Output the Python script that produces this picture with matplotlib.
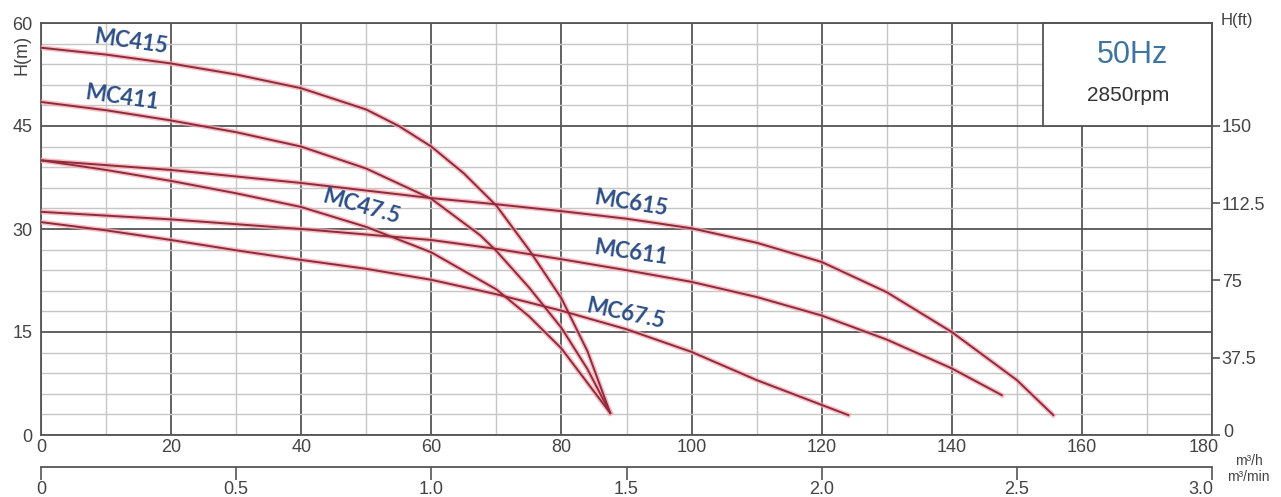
import matplotlib.pyplot as plt
from matplotlib.patches import Rectangle
from matplotlib.transforms import ScaledTranslation

# Pump curves, flow Q in m3/h, head H in m
q_mc415 = [0, 10, 20, 30, 40, 50, 55, 60, 65, 70, 75, 80, 84, 87.5]
h_mc415 = [56.4, 55.4, 54.1, 52.5, 50.5, 47.4, 45.0, 42.0, 38.1, 33.4, 27.0, 19.9, 12.2, 3.2]

q_mc411 = [0, 10, 20, 30, 40, 50, 60, 67.5, 70, 75, 80, 84, 87.5]
h_mc411 = [48.5, 47.3, 45.8, 44.1, 42.0, 38.8, 34.4, 29.1, 26.8, 21.5, 15.6, 9.6, 3.2]

q_mc47 = [0, 10, 20, 30, 40, 50, 60, 70, 75, 80, 87.5]
h_mc47 = [40.0, 38.6, 37.0, 35.2, 33.2, 30.3, 26.6, 21.2, 17.3, 12.6, 3.2]

q_mc615 = [0, 20, 40, 60, 70, 80, 90, 100, 110, 120, 130, 140, 150, 155.6]
h_mc615 = [40.0, 38.6, 36.7, 34.5, 33.6, 32.6, 31.5, 30.1, 28.0, 25.2, 20.8, 15.0, 8.0, 2.9]

q_mc611 = [0, 20, 40, 60, 70, 80, 90, 100, 110, 120, 130, 140, 147.7]
h_mc611 = [32.5, 31.4, 30.0, 28.4, 27.1, 25.6, 24.0, 22.3, 20.1, 17.4, 13.9, 9.7, 5.8]

q_mc67 = [0, 10, 20, 30, 40, 50, 60, 70, 80, 90, 100, 110, 124.1]
h_mc67 = [31.0, 29.8, 28.4, 26.9, 25.5, 24.2, 22.6, 20.5, 18.1, 15.4, 12.1, 8.0, 2.9]

curves = [(q_mc415, h_mc415), (q_mc411, h_mc411), (q_mc47, h_mc47),
          (q_mc615, h_mc615), (q_mc611, h_mc611), (q_mc67, h_mc67)]

# labels: text, x, y, rotation
labels = [('MC415', 13.8, 57.2, -8), ('MC411', 12.5, 49.1, -8),
          ('MC47.5', 49.3, 33.3, -16), ('MC615', 90.7, 33.8, -9),
          ('MC611', 90.7, 26.6, -8), ('MC67.5', 89.9, 17.6, -12)]

ft_ticks = [0, 37.5, 75, 112.5, 150]
ft_labels = ['0', '37.5', '75', '112.5', '150']
min_ticks = [0, 0.5, 1.0, 1.5, 2.0, 2.5, 3.0]
min_labels = ['0', '0.5', '1.0', '1.5', '2.0', '2.5', '3.0']

W, H = 1281, 497
fig = plt.figure(figsize=(W / 100, H / 100), dpi=100)
plt.rcParams['font.family'] = ['Liberation Sans', 'DejaVu Sans']

x0, x1, y0, y1 = 41, 1212, 435, 23
ax = fig.add_axes([x0 / W, 1 - y0 / H, (x1 - x0) / W, (y0 - y1) / H])
ax.set_xlim(0, 180)
ax.set_ylim(0, 60)
ax.set_xticks(range(0, 181, 20))
ax.set_xticks(range(10, 180, 20), minor=True)
ax.set_yticks(range(0, 61, 15))
ax.set_yticks([v for v in range(3, 60, 3) if v % 15], minor=True)
ax.grid(which='major', color='#555555', lw=1.3)
ax.grid(which='minor', color='#c6c6c6', lw=1.0)
ax.tick_params(which='both', length=0, labelsize=13, labelcolor='#444444')
ax.tick_params(axis='x', pad=3)
ax.tick_params(axis='y', pad=6)
for s in ax.spines.values():
    s.set_color('#555555')
    s.set_linewidth(1.3)
shift = ScaledTranslation(-6 / 72, 0, fig.dpi_scale_trans)
last = ax.get_xticklabels()[-1]
last.set_transform(last.get_transform() + shift)

# 50Hz box
ax.add_patch(Rectangle((154, 45), 26, 15, facecolor='white', edgecolor='#555555',
                       lw=1.3, zorder=2.2, clip_on=False))
ax.text(167.8, 55.3, '50Hz', ha='center', va='center', fontsize=22,
        color='#3f73a0', zorder=3)
ax.text(167.1, 49.5, '2850rpm', ha='center', va='center', fontsize=15,
        color='#333333', zorder=3)

for q, h in curves:
    ax.plot(q, h, color='#f4aab4', lw=3.6, alpha=0.75, zorder=3,
            solid_joinstyle='round')
    ax.plot(q, h, color='#8f2b3a', lw=1.4, zorder=3.1, solid_joinstyle='round')

for txt, x, y, rot in labels:
    ax.text(x, y, txt, ha='center', va='center', rotation=rot, fontsize=16,
            fontweight='bold', family='Lato', color='#2d4f86', zorder=4)

# right axis in feet
ax2 = ax.twinx()
ax2.set_ylim(0, 200)
ax2.set_yticks(ft_ticks)
ax2.set_yticklabels(ft_labels)
ax2.tick_params(axis='y', length=6, width=1.2, color='#555555', pad=1,
                labelsize=13, labelcolor='#444444')
for s in ax2.spines.values():
    s.set_visible(False)
zero = ax2.get_yticklabels()[0]
zero.set_transform(zero.get_transform() + ScaledTranslation(1 / 72, 3 / 72, fig.dpi_scale_trans))

# second x axis in m3/min
ax3 = fig.add_axes([x0 / W, 1 - 467 / H, (x1 - x0) / W, 0.0001])
ax3.set_xlim(0, 3)
ax3.set_xticks(min_ticks)
ax3.set_xticklabels(min_labels)
ax3.set_yticks([])
for k in ['left', 'right', 'top']:
    ax3.spines[k].set_visible(False)
ax3.spines['bottom'].set_color('#555555')
ax3.spines['bottom'].set_linewidth(1.3)
ax3.tick_params(axis='x', length=9, width=1.2, color='#555555', pad=1,
                labelsize=13, labelcolor='#444444')
ax3.patch.set_visible(False)
last3 = ax3.get_xticklabels()[-1]
last3.set_transform(last3.get_transform() + ScaledTranslation(-8 / 72, 0, fig.dpi_scale_trans))

fig.text(22 / W, 1 - 55 / H, 'H(m)', rotation=90, ha='center', va='center',
         fontsize=13, color='#444444')
fig.text(1237 / W, 1 - 20 / H, 'H(ft)', ha='center', va='center',
         fontsize=12, color='#444444')
fig.text(1249 / W, 1 - 461 / H, 'm³/h', ha='center', va='center',
         fontsize=10, color='#444444')
fig.text(1248 / W, 1 - 477 / H, 'm³/min', ha='center', va='center',
         fontsize=10, color='#444444')

fig.savefig('out.png', dpi=100)
